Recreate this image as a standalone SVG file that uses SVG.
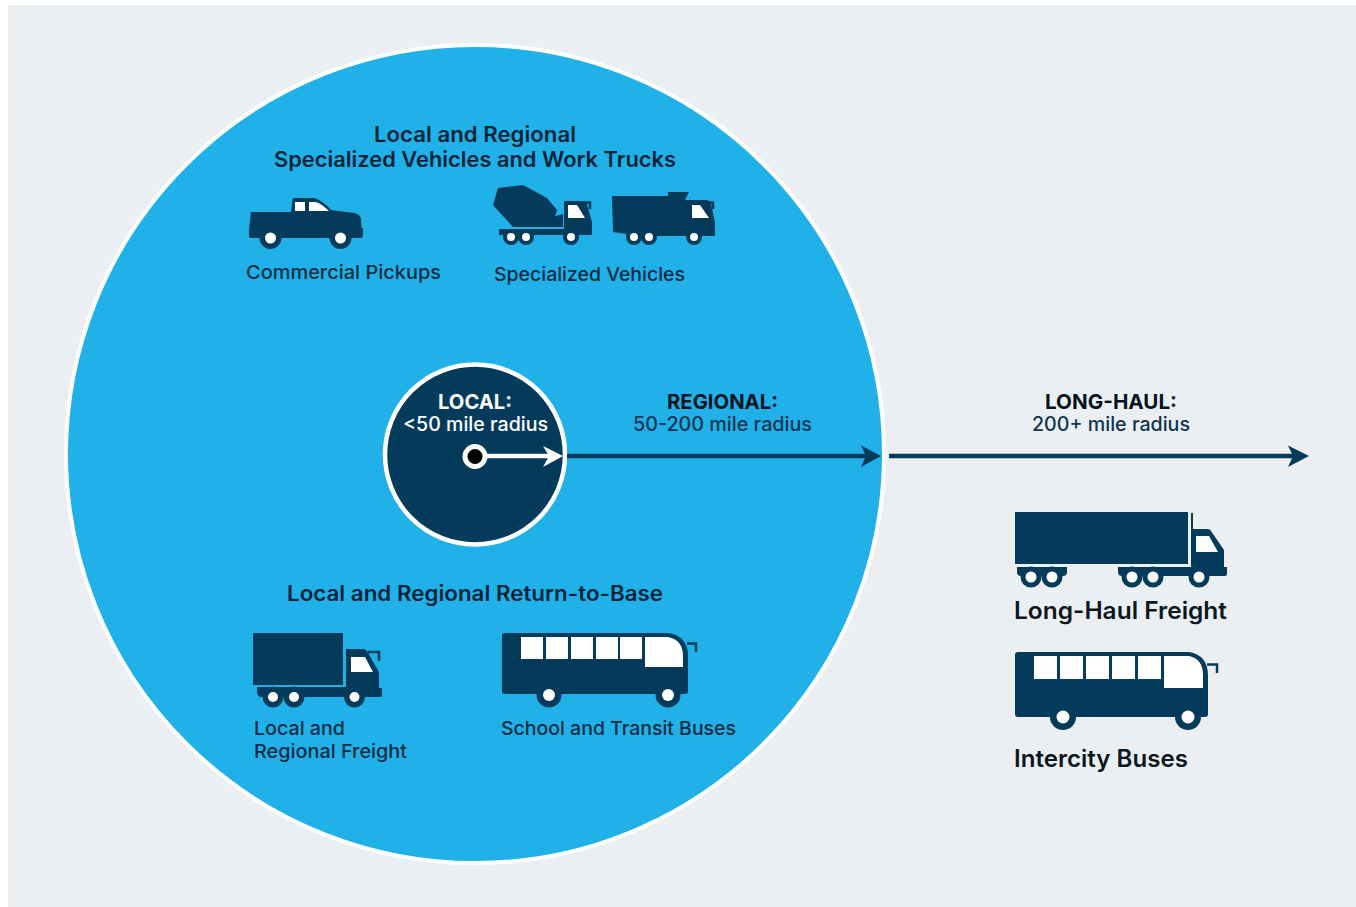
<svg xmlns="http://www.w3.org/2000/svg" width="1356" height="907" viewBox="0 0 1356 907">
<style>
text{font-family:Inter,"Noto Sans","Liberation Sans",sans-serif;fill:#0b2c44;font-weight:500;font-size:19px}
.h{font-weight:600;font-size:21px;fill:#06233a}
.b{font-weight:700;font-size:20.5px;fill:#06131f}
.r{font-size:19.5px;fill:#0d3550}
.l{font-weight:600;font-size:24px;fill:#0c1720}
.v{fill:#053b5a}
.w{fill:#fff}
.bl{fill:#20b1e8}
.gr{fill:#ebeff2}
.m{fill:none;stroke:#053b5a;stroke-width:2.5}
.a{fill:none;stroke:#053b5a;stroke-width:4.5}
</style>
<rect class="gr" x="8" y="5" width="1348" height="902"/>
<g id="regional-zone"><circle class="bl" cx="475" cy="454" r="409" stroke="#fff" stroke-width="4"/></g>
<g id="local-zone"><circle class="v" cx="475" cy="454.500" r="90" stroke="#fff" stroke-width="4.500"/>
<text class="b" x="438" y="409" textLength="74" lengthAdjust="spacingAndGlyphs" style="fill:#fff">LOCAL:</text>
<text class="r" x="403" y="431" textLength="145" lengthAdjust="spacingAndGlyphs" style="fill:#fff">&lt;50 mile radius</text></g>
<g id="connectors">
<path class="a" d="M567 456H868"/>
<path class="v" d="M861 445.500L881 456L861 467L866 456Z"/>
<path class="a" d="M889 456H1296"/>
<path class="v" d="M1288 445.500L1309 456L1288 467L1293 456Z"/>
<path d="M480 456H552" fill="none" stroke="#fff" stroke-width="4.500"/>
<path class="w" d="M543 446L563 456L543 467L549 456Z"/>
<circle cx="475" cy="456.500" r="10" fill="#000" stroke="#fff" stroke-width="5"/>
</g>
<g id="label-regional"><text class="b" x="667" y="409" textLength="111" lengthAdjust="spacingAndGlyphs">REGIONAL:</text>
<text class="r" x="633" y="431" textLength="179" lengthAdjust="spacingAndGlyphs">50-200 mile radius</text></g>
<g id="label-long-haul"><text class="b" x="1045" y="409" textLength="132" lengthAdjust="spacingAndGlyphs">LONG-HAUL:</text>
<text class="r" x="1032" y="431" textLength="158" lengthAdjust="spacingAndGlyphs">200+ mile radius</text></g>
<g id="heading-specialized"><text class="h" x="374" y="142" textLength="202" lengthAdjust="spacingAndGlyphs">Local and Regional</text>
<text class="h" x="274" y="167" textLength="402" lengthAdjust="spacingAndGlyphs">Specialized Vehicles and Work Trucks</text></g>
<g id="commercial-pickups">
<path class="v" d="M249 230L251 212H291L292.500 199Q293 198 295 198H314Q322 200 331 210L354 213Q360 214 361 219L361.500 228H363V236Q363 238 361 238H251Q249 238 249 236Z"/>
<path class="w" d="M295 202H305V211H295ZM309 202H316Q322 204 329 211H309Z"/>
<g class="v"><circle cx="270.500" cy="238" r="11"/><circle cx="340.500" cy="238" r="11"/></g>
<g class="w"><circle cx="270.500" cy="238" r="5.500"/><circle cx="340.500" cy="238" r="5.500"/></g>
<text x="246" y="279" textLength="195" lengthAdjust="spacingAndGlyphs">Commercial Pickups</text></g>
<g id="specialized-vehicles">
<path class="v" d="M493 205L498 188L523 185L547 198L557 210L555 216L563 214V227L545 227L513 227Z"/>
<path class="v" d="M564 201H583Q586 201 587 204L592 222V235H499V229H564Z"/>
<path class="w" d="M568 205H577L585 218H568Z"/>
<path class="m" d="M583 202.500H590V209"/>
<g class="v"><circle cx="511" cy="237" r="8"/><circle cx="526" cy="237" r="8"/><circle cx="571" cy="237" r="8"/></g>
<g class="w"><circle cx="511" cy="237" r="4"/><circle cx="526" cy="237" r="4"/><circle cx="571" cy="237" r="4"/></g>
<path class="v" d="M612 196H668V192H689L685 200H707Q710 201 711 204L715 222V236H640L613 232Z"/>
<path class="w" d="M692 205H700L709 218H692Z"/>
<path class="m" d="M706 202.500H713V209"/>
<g class="v"><circle cx="634" cy="237" r="8"/><circle cx="649" cy="237" r="8"/><circle cx="694" cy="237" r="8"/></g>
<g class="w"><circle cx="634" cy="237" r="4"/><circle cx="649" cy="237" r="4"/><circle cx="694" cy="237" r="4"/></g>
<text x="494" y="281" textLength="191" lengthAdjust="spacingAndGlyphs">Specialized Vehicles</text></g>
<g id="heading-return"><text class="h" x="287" y="601" textLength="376" lengthAdjust="spacingAndGlyphs">Local and Regional Return-to-Base</text></g>
<g id="local-regional-freight">
<path class="v" d="M253 633H343V685H253Z"/>
<path class="v" d="M346 649H363Q366 649 367 651L379 672V688H382V695Q382 697 380 697H262Q257 697 257 692V687H346Z"/>
<path class="w" d="M351 657H365L373 672H351Z"/>
<path class="m" d="M368 652H379V661"/>
<g class="v"><circle cx="273" cy="697" r="10.500"/><circle cx="294" cy="697" r="10.500"/><circle cx="354.500" cy="697" r="10.500"/></g>
<g class="w"><circle cx="273" cy="697" r="5"/><circle cx="294" cy="697" r="5"/><circle cx="354.500" cy="697" r="5"/></g>
<text x="254" y="735" textLength="91" lengthAdjust="spacingAndGlyphs">Local and</text>
<text x="254" y="758" textLength="153" lengthAdjust="spacingAndGlyphs">Regional Freight</text></g>
<g id="school-transit-buses">
<path class="v" d="M505 633H668Q688 636 688 656V691Q688 694 685 694H505Q502 694 502 691V636Q502 633 505 633Z"/>
<path class="w" d="M521 637H543V659H521ZM546 637H568V659H546ZM571 637H593V659H571ZM596 637H618V659H596ZM620 637H642V659H620ZM645 637H668Q683 640 683 656V667H645Z"/>
<path class="m" d="M687 643.500H696V652"/>
<g class="v"><circle cx="549" cy="695" r="12.500"/><circle cx="668" cy="695" r="12.500"/></g>
<g class="w"><circle cx="549" cy="695" r="6"/><circle cx="668" cy="695" r="6"/></g>
<text x="501" y="735" textLength="235" lengthAdjust="spacingAndGlyphs">School and Transit Buses</text></g>
<g id="long-haul-freight">
<path class="v" d="M1015 512H1188V564H1015Z"/>
<path class="v" d="M1191 513H1193V529H1208Q1210 529 1211 531L1224 550V567H1227V574Q1227 576 1225 576H1122Q1118 576 1118 572V567H1191Z"/>
<path class="v" d="M1017 567H1067V572Q1067 576 1063 576H1021Q1017 576 1017 572Z"/>
<path class="w" d="M1196 536H1209L1218 552H1196Z"/>
<g class="v"><circle cx="1031" cy="577" r="10.500"/><circle cx="1052" cy="577" r="10.500"/><circle cx="1132" cy="577" r="10.500"/><circle cx="1153" cy="577" r="10.500"/><circle cx="1199" cy="577" r="10.500"/></g>
<g class="w"><circle cx="1031" cy="577" r="5.500"/><circle cx="1052" cy="577" r="5.500"/><circle cx="1132" cy="577" r="5.500"/><circle cx="1153" cy="577" r="5.500"/><circle cx="1199" cy="577" r="5.500"/></g>
<text class="l" x="1014" y="619" textLength="213" lengthAdjust="spacingAndGlyphs">Long-Haul Freight</text></g>
<g id="intercity-buses">
<path class="v" d="M1018 652H1189Q1208 655 1208 676V714Q1208 717 1205 717H1018Q1015 717 1015 714V655Q1015 652 1018 652Z"/>
<path class="w" d="M1034 656H1057V679H1034ZM1060 656H1083V679H1060ZM1086 656H1109V679H1086ZM1112 656H1135V679H1112ZM1138 656H1161V679H1138ZM1164 656H1189Q1203 659 1203 675V688H1164Z"/>
<path class="m" d="M1207 664.500H1217V673"/>
<g class="v"><circle cx="1063" cy="717" r="13"/><circle cx="1188" cy="717" r="13"/></g>
<g class="w"><circle cx="1063" cy="717" r="6.500"/><circle cx="1188" cy="717" r="6.500"/></g>
<text class="l" x="1014" y="767" textLength="174" lengthAdjust="spacingAndGlyphs">Intercity Buses</text></g>
</svg>
